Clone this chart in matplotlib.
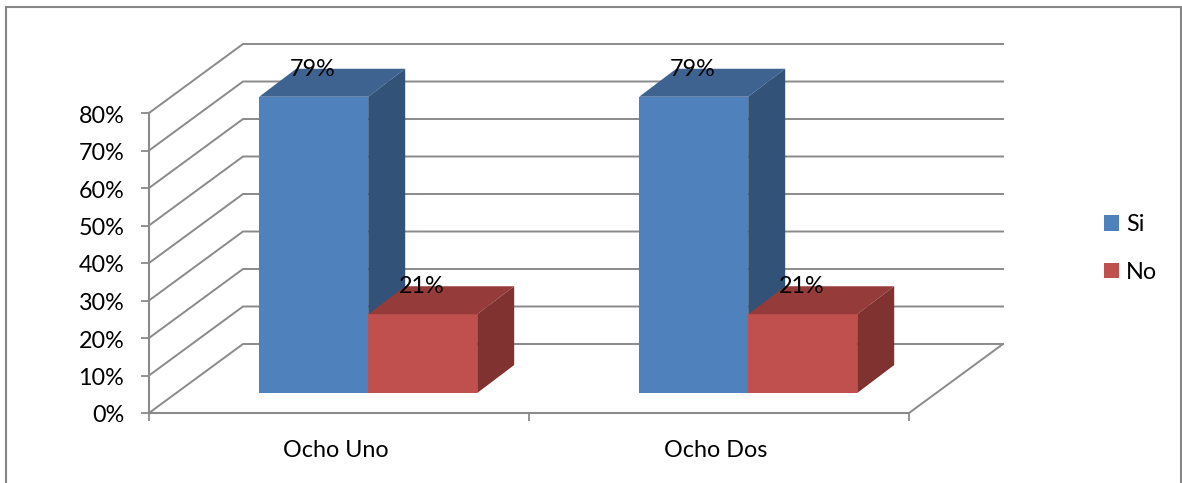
import matplotlib
matplotlib.use('Agg')
import matplotlib.pyplot as plt
from matplotlib.patches import Patch, Polygon, Rectangle
from matplotlib.transforms import ScaledTranslation

categories = ['Ocho Uno', 'Ocho Dos']
si_values = [79, 79]
no_values = [21, 21]
y_ticks = [0, 10, 20, 30, 40, 50, 60, 70, 80]

W, H = 1182, 483
GRAY = '#8a8a8a'
FONT = 16.8

plt.rcParams['font.family'] = ['Lato', 'DejaVu Sans']

fig = plt.figure(figsize=(W / 100, H / 100), dpi=100, facecolor='white')
ax = fig.add_axes([149 / W, (H - 413) / H, 760 / W, 300 / H])
ax.set_xlim(0, 2)
ax.set_ylim(0, 80)
ax.patch.set_visible(False)

# medidas en pixeles pasadas a unidades de datos
PX_X = 2 / 760
PX_Y = 80 / 300
wall_dx, wall_dy = 94 * PX_X, 69 * PX_Y
bar_dx, bar_dy = 37 * PX_X, 28 * PX_Y
shift_x, shift_y = 29.2 * PX_X, 20 * PX_Y
bar_w = 109 * PX_X

# paredes y piso
for t in y_ticks:
    ax.plot([0, wall_dx, 2 + wall_dx], [t, t + wall_dy, t + wall_dy],
            color=GRAY, lw=1.4, clip_on=False, zorder=1, solid_joinstyle='miter')
ax.plot([2, 2 + wall_dx], [0, wall_dy], color=GRAY, lw=1.4, clip_on=False, zorder=1)


def bar_3d(x, value, front, top, side):
    y0 = shift_y
    y1 = shift_y + value
    ax.bar(x, value, bar_w, bottom=y0, align='edge', color=front, lw=0, zorder=3, clip_on=False)
    ax.add_patch(Polygon([(x, y1), (x + bar_w, y1), (x + bar_w + bar_dx, y1 + bar_dy), (x + bar_dx, y1 + bar_dy)],
                         closed=True, facecolor=top, lw=0, zorder=3, clip_on=False))
    ax.add_patch(Polygon([(x + bar_w, y0), (x + bar_w, y1), (x + bar_w + bar_dx, y1 + bar_dy), (x + bar_w + bar_dx, y0 + bar_dy)],
                         closed=True, facecolor=side, lw=0, zorder=3, clip_on=False))
    ax.text(x + bar_w / 2 - 1.5 * PX_X, y1 + 7.3, f'{value}%', ha='center', va='center',
            fontsize=FONT, color='black', zorder=5, clip_on=False)


for i in range(len(categories)):
    left = i + 0.5 + shift_x - bar_w
    bar_3d(left, si_values[i], '#4f81bd', '#3e6390', '#325278')
    bar_3d(left + bar_w, no_values[i], '#c0504d', '#953b39', '#7f322f')

# ejes
for s in ['top', 'right']:
    ax.spines[s].set_visible(False)
for s in ['left', 'bottom']:
    ax.spines[s].set_color(GRAY)
    ax.spines[s].set_linewidth(1.5)
ax.set_yticks(y_ticks)
ax.set_yticklabels([f'{t}%' for t in y_ticks])
ax.set_xticks([0, 1, 2])
ax.set_xticklabels([])
ax.set_xticks([0.5 - 3 * PX_X, 1.5 - 3 * PX_X], minor=True)
ax.set_xticklabels(categories, minor=True)
ax.tick_params(axis='y', length=5.8, width=1.3, color=GRAY, pad=12, labelsize=FONT)
ax.tick_params(axis='x', which='major', length=5.8, width=1.3, color=GRAY)
ax.tick_params(axis='x', which='minor', length=0, pad=19.5, labelsize=FONT)

# bajar un pixel las etiquetas del eje y
down = ScaledTranslation(0, -1 / 100, fig.dpi_scale_trans)
for label in ax.get_yticklabels():
    label.set_transform(label.get_transform() + down)

# leyenda
handles = [Patch(facecolor='#4f81bd', label='Si'), Patch(facecolor='#c0504d', label='No')]
fig.legend(handles=handles, loc='upper left', bbox_to_anchor=(1083 / W, 1 - 193 / H), frameon=False,
           fontsize=FONT, handlelength=0.64, handleheight=0.64, handletextpad=0.3, labelspacing=1.14)

# marco
fig.add_artist(Rectangle((6 / W, -20 / H), 1175 / W, (H - 7 + 20) / H, transform=fig.transFigure,
                         fill=False, edgecolor='#868686', lw=1.5))

fig.savefig('out.png', dpi=100)
